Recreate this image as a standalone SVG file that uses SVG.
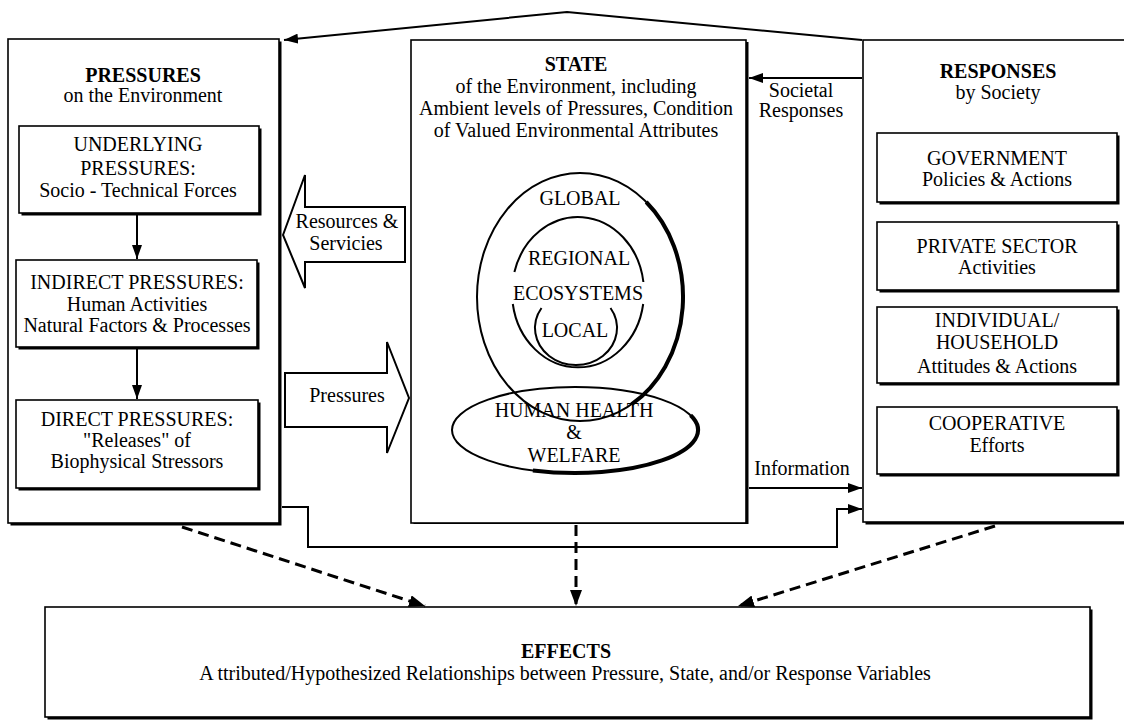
<svg xmlns="http://www.w3.org/2000/svg" width="1124" height="721" viewBox="0 0 1124 721">
  <style>
    text { font-family: "Liberation Serif", "Times New Roman", serif; font-size: 20px; fill: #000; text-anchor: middle; }
    .b { font-weight: bold; }
    .box { fill: #fff; stroke: #000; stroke-width: 1.6; }
    .shadow { fill: #000; }
    .conn { fill: none; stroke: #000; stroke-width: 2; }
    .dash { fill: none; stroke: #000; stroke-width: 3; stroke-dasharray: 11 6; }
    .ring { fill: none; stroke: #000; stroke-width: 2; }
    .thick { fill: none; stroke: #000; stroke-width: 4; }
    .block { fill: #fff; stroke: #000; stroke-width: 2; stroke-linejoin: miter; }
  </style>
  <defs>
    <marker id="ah" viewBox="0 0 14 10" refX="14" refY="5" markerWidth="14" markerHeight="10" markerUnits="userSpaceOnUse" orient="auto">
      <path d="M0,0 L14,5 L0,10 z" fill="#000"/>
    </marker>
    <marker id="ahd" viewBox="0 0 16 12" refX="16" refY="6" markerWidth="16" markerHeight="12" markerUnits="userSpaceOnUse" orient="auto">
      <path d="M0,0 L16,6 L0,12 z" fill="#000"/>
    </marker>
  </defs>

  <rect x="0" y="0" width="1124" height="721" fill="#fff"/>

  <!-- Pressures column -->
  <g id="pressures">
    <rect class="shadow" x="10.5" y="41.5" width="271" height="484"/>
    <rect class="box" x="8" y="39" width="271" height="484"/>
    <text class="b" x="143" y="82">PRESSURES</text>
    <text x="143" y="102">on the Environment</text>

    <g id="underlying">
      <rect class="shadow" x="21.5" y="128.5" width="240" height="87"/>
      <rect class="box" x="19" y="126" width="240" height="87"/>
      <text x="138" y="151">UNDERLYING</text>
      <text x="138" y="175">PRESSURES:</text>
      <text x="138" y="197">Socio - Technical Forces</text>
    </g>
    <g id="indirect">
      <rect class="shadow" x="18.5" y="262.5" width="241" height="87"/>
      <rect class="box" x="16" y="260" width="241" height="87"/>
      <text x="137" y="289">INDIRECT PRESSURES:</text>
      <text x="137" y="311">Human Activities</text>
      <text x="137" y="332">Natural Factors &amp; Processes</text>
    </g>
    <g id="direct">
      <rect class="shadow" x="18.5" y="402.5" width="242" height="88"/>
      <rect class="box" x="16" y="400" width="242" height="88"/>
      <text x="137" y="426">DIRECT PRESSURES:</text>
      <text x="137" y="447">"Releases" of</text>
      <text x="137" y="468">Biophysical Stressors</text>
    </g>
  </g>

  <!-- State of the environment -->
  <g id="state">
    <rect class="shadow" x="413.5" y="42" width="335" height="482"/>
    <rect class="box" x="411" y="40" width="335" height="483"/>
    <text class="b" x="576" y="71">STATE</text>
    <text x="576" y="93">of the Environment, including</text>
    <text x="576" y="115">Ambient levels of Pressures, Condition</text>
    <text x="576" y="137">of Valued Environmental Attributes</text>

    <g id="global">
      <ellipse class="ring" cx="580" cy="297" rx="103" ry="124"/>
      <path class="thick" d="M646.2 202 A103 124 0 0 1 631.5 404.4"/>
      <text x="580" y="205">GLOBAL</text>
    </g>
    <g id="regional">
      <path class="ring" d="M514.4 272 A66 75 0 0 1 643.4 282"/>
      <path class="ring" d="M512.8 304 A66 75 0 0 0 643.2 304"/>
      <text x="579" y="265">REGIONAL</text>
      <text x="578" y="300">ECOSYSTEMS</text>
    </g>
    <g id="local">
      <path class="ring" d="M541.5 308 A41 37 0 1 0 610.5 308"/>
      <text x="575" y="337">LOCAL</text>
    </g>
    <g id="health">
      <ellipse class="ring" cx="575" cy="430" rx="123" ry="43" fill="#fff"/>
      <path class="thick" d="M690.6 415.3 A123 43 0 0 1 532.9 470.4"/>
      <text x="574" y="417">HUMAN HEALTH</text>
      <text x="574" y="439">&amp;</text>
      <text x="574" y="462">WELFARE</text>
    </g>
  </g>

  <!-- Responses column -->
  <g id="responses">
    <rect class="shadow" x="865.5" y="42.5" width="300" height="482"/>
    <rect class="box" x="863" y="40" width="300" height="482"/>
    <text class="b" x="998" y="78">RESPONSES</text>
    <text x="998" y="99">by Society</text>

    <g id="government">
      <rect class="shadow" x="879.5" y="135.5" width="240" height="69"/>
      <rect class="box" x="877" y="133" width="240" height="69"/>
      <text x="997" y="165">GOVERNMENT</text>
      <text x="997" y="186">Policies &amp; Actions</text>
    </g>
    <g id="private-sector">
      <rect class="shadow" x="879.5" y="224.5" width="240" height="68"/>
      <rect class="box" x="877" y="222" width="240" height="68"/>
      <text x="997" y="253">PRIVATE SECTOR</text>
      <text x="997" y="274">Activities</text>
    </g>
    <g id="household">
      <rect class="shadow" x="879.5" y="309.5" width="240" height="76"/>
      <rect class="box" x="877" y="307" width="240" height="76"/>
      <text x="997" y="327">INDIVIDUAL/</text>
      <text x="997" y="349">HOUSEHOLD</text>
      <text x="997" y="373">Attitudes &amp; Actions</text>
    </g>
    <g id="cooperative">
      <rect class="shadow" x="879.5" y="409.5" width="240" height="67"/>
      <rect class="box" x="877" y="407" width="240" height="67"/>
      <text x="997" y="430">COOPERATIVE</text>
      <text x="997" y="452">Efforts</text>
    </g>
  </g>

  <!-- Effects -->
  <g id="effects">
    <rect class="shadow" x="47.5" y="609.5" width="1045" height="110"/>
    <rect class="box" x="45" y="607" width="1045" height="110"/>
    <text class="b" x="566" y="658">EFFECTS</text>
    <text x="565" y="680">A ttributed/Hypothesized Relationships between Pressure, State, and/or Response Variables</text>
  </g>

  <!-- Connectors and flows -->
  <g id="connectors">
    <polyline class="conn" points="862,40 567,12 284,40" marker-end="url(#ah)"/>
    <line class="conn" x1="862" y1="78" x2="749" y2="78" marker-end="url(#ah)"/>
    <text x="801" y="97">Societal</text>
    <text x="801" y="117">Responses</text>

    <line class="conn" x1="137" y1="214" x2="137" y2="259" marker-end="url(#ah)"/>
    <line class="conn" x1="137" y1="348" x2="137" y2="399" marker-end="url(#ah)"/>

    <g id="resources-flow">
      <polygon class="block" points="283,235 305,175 305,207 405,207 405,262 305,262 305,288"/>
      <text x="347" y="228">Resources &amp;</text>
      <text x="346" y="250">Servicies</text>
    </g>
    <g id="pressures-flow">
      <polygon class="block" points="285,373 387,373 387,342 409,398 387,453 387,427 285,427"/>
      <text x="347" y="402">Pressures</text>
    </g>

    <line class="conn" x1="749" y1="488" x2="862" y2="488" marker-end="url(#ah)"/>
    <text x="802" y="475">Information</text>
    <polyline class="conn" points="282,507 308,507 308,547 837,547 837,509 862,509" marker-end="url(#ah)"/>

    <line class="dash" x1="182" y1="527" x2="425" y2="606" marker-end="url(#ahd)"/>
    <line class="dash" x1="576" y1="525" x2="576" y2="606" marker-end="url(#ahd)"/>
    <line class="dash" x1="995" y1="526" x2="738" y2="606" marker-end="url(#ahd)"/>
  </g>
</svg>
